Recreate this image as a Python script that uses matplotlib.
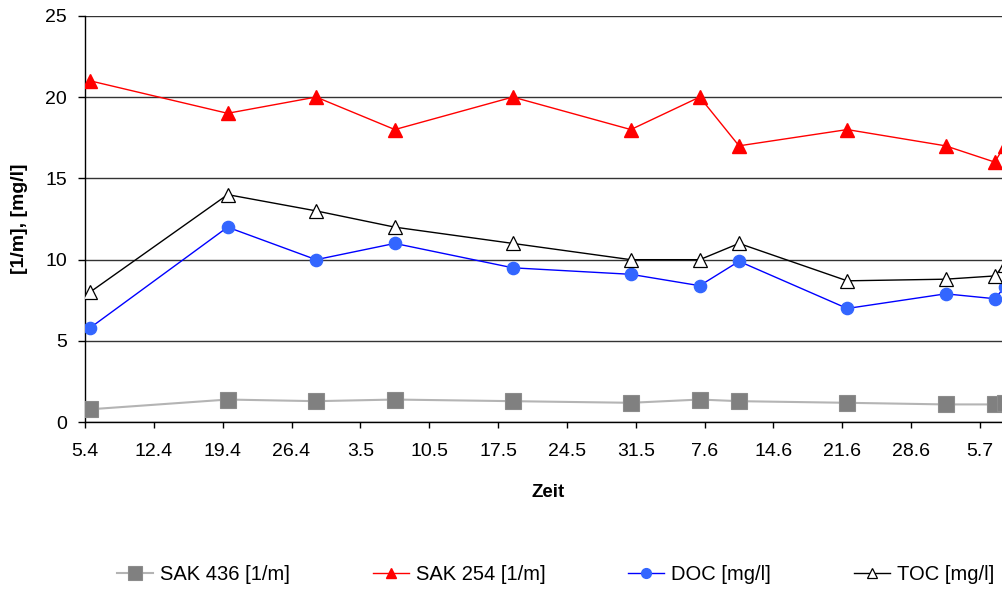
import matplotlib
matplotlib.use("Agg")
import matplotlib.pyplot as plt
import numpy as np

# Sampling dates (day.month) and measured values
dates = ["5.4", "19.4", "28.4", "6.5", "18.5", "30.5", "6.6", "10.6",
         "21.6", "1.7", "6.7", "7.7"]
sak436 = [0.8, 1.4, 1.3, 1.4, 1.3, 1.2, 1.4, 1.3, 1.2, 1.1, 1.1, 1.2]
sak254 = [21, 19, 20, 18, 20, 18, 20, 17, 18, 17, 16, 17]
doc = [5.8, 12.0, 10.0, 11.0, 9.5, 9.1, 8.4, 9.9, 7.0, 7.9, 7.6, 8.3]
toc = [8.0, 14.0, 13.0, 12.0, 11.0, 10.0, 10.0, 11.0, 8.7, 8.8, 9.0, 9.7]

tick_labels = ["5.4", "12.4", "19.4", "26.4", "3.5", "10.5", "17.5",
               "24.5", "31.5", "7.6", "14.6", "21.6", "28.6", "5.7"]

# days before the first of each month, counted from 1 April
month_start = {4: 0, 5: 30, 6: 61, 7: 91}


def day_index(label):
    d, m = (int(p) for p in label.split("."))
    return month_start[m] + d - 5  # days since 5.4


x_pts = np.array([day_index(s) for s in dates]) + 0.5   # centre of the day slot
x_ticks = np.array([day_index(s) for s in tick_labels])

plt.rcParams["font.family"] = ["Liberation Sans", "DejaVu Sans"]

fig = plt.figure(figsize=(10.03, 5.89), dpi=100)
ax = fig.add_axes([85 / 1003, 0.2830, 983.5 / 1003, 0.6903])

ax.plot(x_pts, sak436, color="#b4b4b4", lw=1.5, marker="s", ms=12,
        mfc="#808080", mec="#8c8c8c", mew=0.8, label="SAK 436 [1/m]", zorder=3)
ax.plot(x_pts, sak254, color="#ff0000", lw=1.0, marker="^", ms=9.5,
        mfc="#ff0000", mec="#ff0000", label="SAK 254 [1/m]", zorder=3)
ax.plot(x_pts, doc, color="#0000ff", lw=1.0, marker="o", ms=8.8,
        mfc="#3366ff", mec="#3366ff", label="DOC [mg/l]", zorder=3)
ax.plot(x_pts, toc, color="#000000", lw=1.0, marker="^", ms=9.5,
        mfc="white", mec="black", mew=0.9, label="TOC [mg/l]", zorder=4)

ax.set_xlim(0, 100)
ax.set_ylim(0, 25)
ax.set_yticks([0, 5, 10, 15, 20, 25])
ax.set_xticks(x_ticks)
ax.set_xticklabels(tick_labels)

ax.grid(axis="y", color="#333333", lw=1.0)
ax.set_axisbelow(True)
for side in ("top", "right"):
    ax.spines[side].set_visible(False)
for side in ("left", "bottom"):
    ax.spines[side].set_color("black")
    ax.spines[side].set_linewidth(1.0)

ax.tick_params(axis="x", direction="out", length=4, width=1, pad=11,
               labelsize=14, colors="black")
ax.tick_params(axis="y", direction="out", length=5, width=1, pad=8,
               labelsize=14, colors="black")

ax.set_xlabel("Zeit", fontsize=13.5, fontweight="bold")
ax.xaxis.set_label_coords((548 - 85) / 983.5, -(492 - 422.3) / 406.6)
ax.xaxis.label.set_va("center")
ax.set_ylabel("[1/m], [mg/l]", fontsize=14, fontweight="bold")
ax.yaxis.set_label_coords(-(85 - 20) / 983.5, 0.5)
ax.yaxis.label.set_va("center")

handles, labels = ax.get_legend_handles_labels()
fig.legend(handles, labels, loc="center", bbox_to_anchor=(0.554, 0.025),
           ncol=4, frameon=False, fontsize=14.5, handlelength=1.8,
           handletextpad=0.35, columnspacing=4.1, markerscale=0.8)

fig.savefig("out.png", dpi=100)
